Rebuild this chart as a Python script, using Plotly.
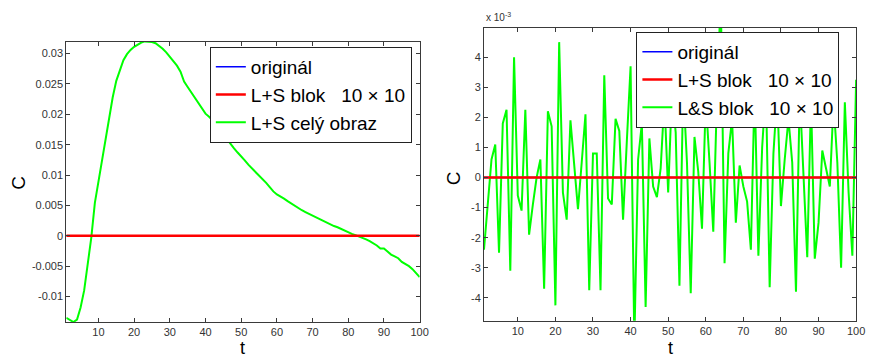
import plotly.graph_objects as go

# ---------------- data ----------------
t = list(range(1, 101))

# left panel: L+S cely obraz (green)
ls_cely = [
    -0.0135, -0.0139, -0.0142, -0.0138, -0.0118, -0.0090, -0.0050, -0.0003, 0.0054, 0.0088,
    0.0122, 0.0158, 0.0195, 0.0228, 0.0255, 0.0274, 0.0289, 0.0299, 0.0306, 0.0311,
    0.0315, 0.0318, 0.0320, 0.0320, 0.0319, 0.0317, 0.0313, 0.0308, 0.0302, 0.0295,
    0.0288, 0.0280, 0.0270, 0.0254, 0.0245, 0.0236, 0.0227, 0.0218, 0.0209, 0.0201,
    0.0196, 0.0190, 0.0182, 0.0174, 0.0166, 0.0158, 0.0151, 0.0144, 0.0137, 0.0131,
    0.0124, 0.0117, 0.0111, 0.0106, 0.0100, 0.0093, 0.0087, 0.0080, 0.0073, 0.0068,
    0.0065, 0.0061, 0.0057, 0.0053, 0.0050, 0.0046, 0.0042, 0.0039, 0.0036, 0.0034,
    0.0031, 0.0028, 0.0025, 0.0021, 0.0019, 0.0016, 0.0014, 0.0011, 0.0008, 0.0006,
    0.0003, 0.0001, -0.0001, -0.0004, -0.0006, -0.0009, -0.0012, -0.0016, -0.0021, -0.0021,
    -0.0026, -0.0031, -0.0034, -0.0037, -0.0043, -0.0046, -0.0050, -0.0055, -0.0062, -0.0068,
]

# right panel: L&S blok 10x10 (green), in units of 1e-3
lands_blok_e3 = [
    -2.4, -0.9, 0.6, 1.1, -2.5, 1.8, 2.25, -3.1, 4.0, -0.6,
    -1.1, 2.25, -1.9, -0.9, 0.0, 0.6, -3.7, 2.2, 1.7, -4.25,
    4.5, -0.5, -1.4, 1.9, 0.4, -1.05, 0.5, 2.1, -3.75, 0.8,
    0.8, -3.75, 3.4, -0.7, -0.9, 1.95, 1.55, -1.4, 1.2, 3.7,
    -5.5, 0.6, 1.8, -4.3, 1.3, -0.3, -0.65, 0.3, 2.6, -0.5,
    2.8, 1.5, -3.6, 3.0, 0.5, -3.85, 1.35, 0.2, -1.7, 2.6,
    0.5, -1.8, 2.8, 6.0, -2.85, 0.8, 1.95, -1.5, 0.4, -0.3,
    -0.8, -2.4, 3.0, -2.6, 1.0, 3.0, -3.65, 0.8, 2.8, -0.95,
    0.6, 1.95, 0.5, -3.8, 2.8, 0.0, -2.65, 2.6, -2.7, -1.5,
    0.9, 0.3, -0.3, 2.5, 0.5, -3.0, 2.5, -0.5, -2.6, 3.25,
]

original = [0.0] * 100
ls_blok = [0.0] * 100

x_ticks = [10, 20, 30, 40, 50, 60, 70, 80, 90, 100]
left_y_ticks = [-0.01, -0.005, 0, 0.005, 0.01, 0.015, 0.02, 0.025, 0.03]
left_y_labels = ["-0.01", "-0.005", "0", "0.005", "0.01", "0.015", "0.02", "0.025", "0.03"]
right_y_ticks = [-4, -3, -2, -1, 0, 1, 2, 3, 4]
right_y_labels = ["-4", "-3", "-2", "-1", "0", "1", "2", "3", "4"]

NB = "\u00a0"
names_left = ["originál", "L+S blok" + NB * 3 + "10 × 10", "L+S celý obraz"]
names_right = ["originál", "L+S blok" + NB * 3 + "10 × 10", "L&S blok" + NB * 3 + "10 × 10"]

# ---------------- figure ----------------
fig = go.Figure()
W, H = 877, 358

fig.add_trace(go.Scatter(x=t, y=original, mode="lines", name=names_left[0],
                         line=dict(color="#0000ff", width=1.5), xaxis="x", yaxis="y",
                         legend="legend", legendrank=1))
fig.add_trace(go.Scatter(x=t, y=ls_cely, mode="lines", name=names_left[2],
                         line=dict(color="#00ff00", width=2), xaxis="x", yaxis="y",
                         legend="legend", legendrank=3))
fig.add_trace(go.Scatter(x=t, y=ls_blok, mode="lines", name=names_left[1],
                         line=dict(color="#ff0000", width=2.4), xaxis="x", yaxis="y",
                         legend="legend", legendrank=2))

fig.add_trace(go.Scatter(x=t, y=original, mode="lines", name=names_right[0],
                         line=dict(color="#0000ff", width=1.5), xaxis="x2", yaxis="y2",
                         legend="legend2", legendrank=1))
fig.add_trace(go.Scatter(x=t, y=lands_blok_e3, mode="lines", name=names_right[2],
                         line=dict(color="#00ff00", width=2), xaxis="x2", yaxis="y2",
                         legend="legend2", legendrank=3))
fig.add_trace(go.Scatter(x=t, y=ls_blok, mode="lines", name=names_right[1],
                         line=dict(color="#ff0000", width=2.4), xaxis="x2", yaxis="y2",
                         legend="legend2", legendrank=2))

axis_common = dict(
    showgrid=False, zeroline=False, showline=True, linecolor="#3a3a3a", linewidth=1,
    mirror="ticks", ticks="inside", ticklen=4, tickcolor="#3a3a3a",
    tickfont=dict(family="Liberation Sans, Arial", size=11, color="#333333"),
)

legend_common = dict(
    xanchor="left", yanchor="top",
    bgcolor="white", bordercolor="#222222", borderwidth=1,
    font=dict(family="Liberation Sans, Arial", size=19, color="black"),
    itemwidth=30, tracegroupgap=0, traceorder="normal",
)

fig.update_layout(
    width=W, height=H,
    margin=dict(l=0, r=0, t=0, b=0),
    paper_bgcolor="white", plot_bgcolor="white",
    showlegend=True,
    xaxis=dict(domain=[67 / W, 424 / W], range=[1, 100], tickvals=x_ticks,
               anchor="y", **axis_common),
    yaxis=dict(domain=[1 - 322 / H, 1 - 42 / H], range=[-0.0142, 0.0319],
               tickvals=left_y_ticks, ticktext=left_y_labels, anchor="x", **axis_common),
    xaxis2=dict(domain=[489 / W, 865 / W], range=[1, 100], tickvals=x_ticks,
                anchor="y2", **axis_common),
    yaxis2=dict(domain=[1 - 320.7 / H, 1 - 28 / H], range=[-4.76, 4.97],
                tickvals=right_y_ticks, ticktext=right_y_labels, anchor="x2", **axis_common),
    legend=dict(x=212 / W, y=1 - 47 / H, **legend_common),
    legend2=dict(x=643 / W, y=1 - 32 / H, **legend_common),
)

ann_font = dict(family="Liberation Sans, Arial", size=19, color="black")
for (ax, ay, txt, ang, sz) in [(18, 183, "C", -90, 19), (458, 178, "C", -90, 19),
                               (245, 347.5, "t", 0, 18), (677, 347.5, "t", 0, 18)]:
    fig.add_annotation(x=ax / W, y=1 - ay / H, xref="paper", yref="paper", text=txt,
                       showarrow=False, font=dict(ann_font, size=sz), textangle=ang,
                       xanchor="center", yanchor="middle", borderpad=0)
fig.add_annotation(x=489 / W, y=1 - 17 / H, xref="paper", yref="paper",
                   text="x 10<sup>-3</sup>", showarrow=False, xanchor="left", yanchor="middle",
                   font=dict(family="Liberation Sans, Arial", size=10, color="#333333"))

fig.write_html("out.html")
